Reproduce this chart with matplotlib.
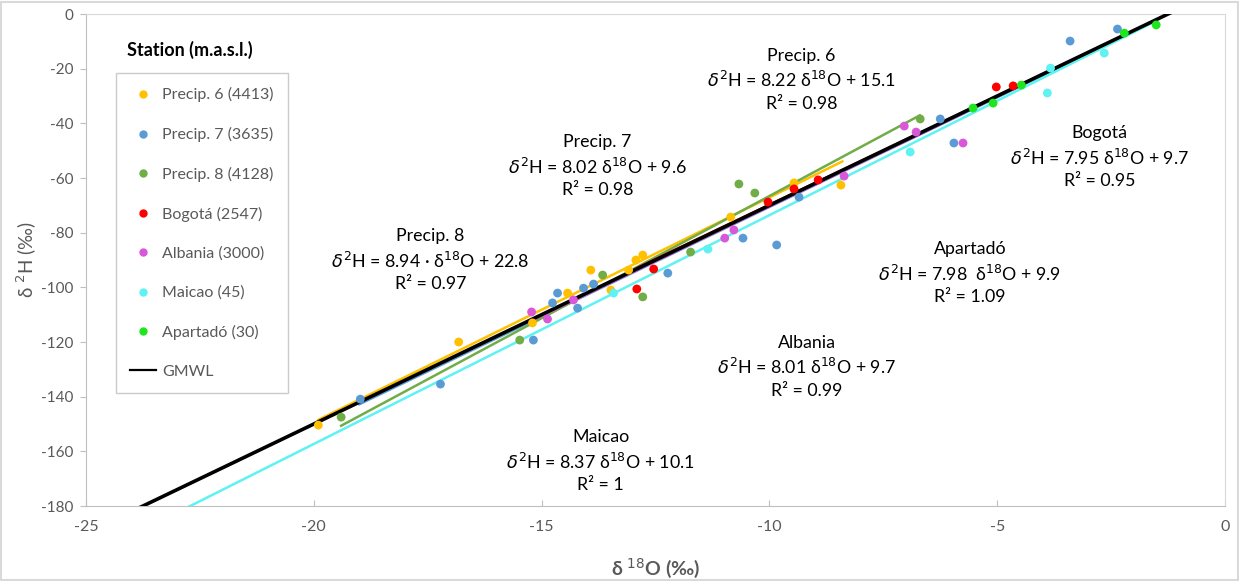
import numpy as np
import matplotlib.pyplot as plt
from matplotlib.patches import Rectangle
from matplotlib.lines import Line2D

plt.rcParams['font.family'] = ['Lato', 'DejaVu Sans']
plt.rcParams['axes.unicode_minus'] = False

# stations: legend label, colour, slope, intercept
stations = ['Precip. 6 (4413)', 'Precip. 7 (3635)', 'Precip. 8 (4128)', 'Bogotá (2547)',
            'Albania (3000)', 'Maicao (45)', 'Apartadó (30)']
colors = ['#FFC000', '#5B9BD5', '#70AD47', '#FF0000', '#D957D9', '#5FF2F2', '#1EE61E']
slopes = [8.22, 8.02, 8.94, 7.95, 8.01, 8.37, 7.98]
intercepts = [15.1, 9.6, 22.8, 9.7, 9.7, 10.1, 9.9]
fit_range = [(-19.9, -8.4), (-19.0, -2.4), (-19.4, -6.7), (-12.9, -4.4),
             (-15.3, -5.75), (-23.0, -1.6), (-5.5, -1.5)]

# sample isotope values (d18O, d2H)
p6_x = [-19.9, -16.82, -15.2, -14.43, -13.92, -13.48, -13.09, -12.93, -12.78, -10.85, -9.46, -8.43]
p6_y = [-150.4, -120.0, -113.0, -102.1, -93.7, -101.0, -93.7, -90.0, -88.2, -74.3, -61.8, -62.6]
p7_x = [-18.98, -17.22, -15.18, -14.65, -14.76, -14.08, -13.86, -14.21, -12.23, -10.58, -9.84,
        -9.35, -6.25, -5.95, -3.40, -2.36]
p7_y = [-140.9, -135.4, -119.3, -102.1, -105.7, -100.3, -98.8, -107.6, -94.8, -82.0, -84.5,
        -67.0, -38.4, -47.2, -9.9, -5.5]
p8_x = [-19.4, -15.48, -13.66, -12.78, -11.73, -10.67, -10.32, -6.69]
p8_y = [-147.5, -119.3, -95.5, -103.5, -87.1, -62.2, -65.5, -38.4]
bog_x = [-12.91, -12.54, -10.03, -9.46, -8.93, -5.02, -4.65]
bog_y = [-100.6, -93.3, -68.8, -64.0, -60.7, -26.7, -26.3]
alb_x = [-15.22, -14.87, -14.30, -10.98, -10.78, -8.36, -7.04, -6.78, -5.75]
alb_y = [-109.0, -111.6, -104.6, -82.0, -79.0, -59.3, -41.0, -43.2, -47.2]
mai_x = [-13.42, -11.35, -6.91, -3.90, -3.83, -2.65]
mai_y = [-102.1, -86.0, -50.5, -28.9, -19.8, -14.3]
apa_x = [-5.53, -5.09, -4.47, -2.21, -1.51]
apa_y = [-34.4, -32.6, -26.0, -7.0, -4.0]

xs = [p6_x, p7_x, p8_x, bog_x, alb_x, mai_x, apa_x]
ys = [p6_y, p7_y, p8_y, bog_y, alb_y, mai_y, apa_y]

# equation labels
eq_names = ['Precip. 6', 'Precip. 7', 'Precip. 8', 'Bogotá', 'Albania', 'Maicao', 'Apartadó']
eq_terms = [r'8.22 δ$^{18}$O + 15.1', r'8.02 δ$^{18}$O + 9.6', r'8.94 · δ$^{18}$O + 22.8',
            r'7.95 δ$^{18}$O + 9.7', r'8.01 δ$^{18}$O + 9.7', r'8.37 δ$^{18}$O + 10.1',
            r'7.98  δ$^{18}$O + 9.9']
eq_r2 = ['0.98', '0.98', '0.97', '0.95', '0.99', '1', '1.09']
eq_pos = [(-9.3, -24.0), (-13.77, -55.5), (-17.44, -90.0), (-2.75, -52.3),
          (-9.18, -129.0), (-13.7, -163.5), (-5.6, -94.7)]

gray = '#595959'
fig = plt.figure(figsize=(12.39, 5.81), dpi=100)
ax = fig.add_axes([86 / 1239, 75 / 581, 1139 / 1239, 492 / 581])

# GMWL
gx = np.array([-25.0, 0.0])
ax.plot(gx, 8 * gx + 10, color='black', lw=2.6, zorder=3)

for i in range(len(stations)):
    lx = np.array(fit_range[i])
    ax.plot(lx, slopes[i] * lx + intercepts[i], color=colors[i], lw=1.8, zorder=2)
    ax.scatter(xs[i], ys[i], s=40, color=colors[i], edgecolors='none', zorder=4)

for i in range(len(eq_names)):
    txt = eq_names[i] + '\n' + r'$\delta^{2}$H = ' + eq_terms[i] + '\n' + 'R² = ' + eq_r2[i]
    ax.text(eq_pos[i][0], eq_pos[i][1], txt, ha='center', va='center', fontsize=12.8,
            color='black', linespacing=1.4, zorder=5)

ax.set_xlim(-25, 0)
ax.set_ylim(-180, 0)
ax.set_xticks(np.arange(-25, 1, 5))
ax.set_yticks(np.arange(-180, 1, 20))
ax.tick_params(axis='x', direction='in', length=4, color='#BFBFBF', colors=gray,
               labelsize=11.5, pad=10)
ax.tick_params(axis='y', direction='out', length=4, color='#BFBFBF', colors=gray,
               labelsize=11, pad=5)
for s in ax.spines.values():
    s.set_color('#D9D9D9')
ax.spines['left'].set_color('#BFBFBF')
ax.spines['bottom'].set_color('#BFBFBF')

ax.set_xlabel('δ $^{18}$O (‰)', fontsize=14, color=gray, fontweight='bold')
ax.set_ylabel('δ $^{2}$H (‰)', fontsize=13.5, color=gray)
ax.xaxis.set_label_coords(0.5, -0.102)
ax.yaxis.set_label_coords(-0.041, 0.5)

# legend with title placed above the frame
handles = [Line2D([], [], ls='none', marker='o', ms=5, color=c) for c in colors]
handles.append(Line2D([], [], color='black', lw=1.6))
leg = ax.legend(handles, stations + ['GMWL'], loc='upper left',
                bbox_to_anchor=(116 / 1239, 1 - 73 / 581), bbox_transform=fig.transFigure,
                frameon=True, fancybox=False, edgecolor='#BFBFBF', fontsize=11.5,
                labelspacing=1.55, handlelength=1.6, handletextpad=0.4,
                borderpad=0.9, borderaxespad=0, labelcolor=gray)
leg.get_frame().set_linewidth(1.0)
fig.text(190 / 1239, 1 - 50 / 581, 'Station (m.a.s.l.)', ha='center', va='center',
         fontsize=13, fontweight='bold', color='black')

fig.patches.append(Rectangle((0.001, 0.001), 0.998, 0.996, transform=fig.transFigure,
                             fill=False, edgecolor='#D9D9D9', lw=1.5))

fig.savefig('out.png', dpi=100)
